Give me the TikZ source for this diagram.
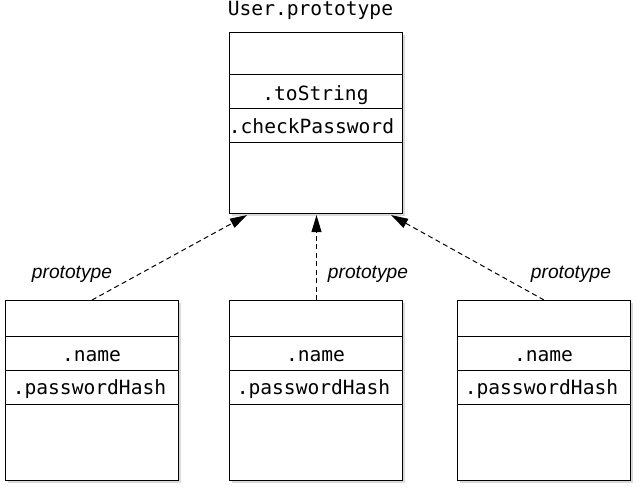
\documentclass[tikz,border=0pt]{standalone}
\usepackage{fontspec}
\setmonofont{DejaVu Sans Mono}
\newfontfamily\labelfont{Liberation Sans}
\usetikzlibrary{arrows.meta,shadows}
\begin{document}
\begin{tikzpicture}[x=1pt,y=-1pt,
  objbox/.style={draw=black, line width=1.1pt, fill=white, rectangle, inner sep=0pt,
     minimum width=173pt, drop shadow={shadow xshift=2.5pt, shadow yshift=-2.5pt, opacity=0.3}},
  mono/.style={font=\ttfamily\fontsize{19.6}{22}\selectfont, anchor=base, inner sep=0pt},
  lbl/.style={font=\labelfont\itshape\fontsize{19.2}{22}\selectfont, anchor=base, inner sep=0pt},
  protoarrow/.style={line width=1pt, dash pattern=on 5pt off 3.5pt,
     -{Triangle[length=17pt,width=10pt]}},
  divider/.style={line width=0.8pt}]
\useasboundingbox (0,0) rectangle (643,493);

% top object
\node[objbox, minimum height=181pt, anchor=north west] (top) at (229,32) {};
\draw[divider] ([yshift=-42pt]top.north west) -- ([yshift=-42pt]top.north east);
\draw[divider] ([yshift=-76pt]top.north west) -- ([yshift=-76pt]top.north east);
\draw[divider] ([yshift=-110pt]top.north west) -- ([yshift=-110pt]top.north east);
\node[mono] (toptitle) at (310.5,15) {User.prototype};
\node[mono] (tostr) at (315.5,100) {.toString};
\node[mono] (chkpw) at (311.5,133) {.checkPassword};

% bottom objects
\foreach \nm/\x in {b1/5, b2/229, b3/457}{
  \node[objbox, minimum height=180pt, anchor=north west] (\nm) at (\x,300) {};
  \draw[divider] ([yshift=-36pt]\nm.north west) -- ([yshift=-36pt]\nm.north east);
  \draw[divider] ([yshift=-70pt]\nm.north west) -- ([yshift=-70pt]\nm.north east);
  \draw[divider] ([yshift=-104pt]\nm.north west) -- ([yshift=-104pt]\nm.north east);
  \node[mono] (\nm name) at (\x+86.5,361) {.name};
  \node[mono] (\nm hash) at (\x+84.5,394) {.passwordHash};
}

% connectors
\draw[protoarrow] ([xshift=87pt]b1.north west) -- ([xshift=18pt,yshift=-1pt]top.south west);
\draw[protoarrow] ([xshift=87.5pt]b2.north west) -- ([xshift=87.5pt,yshift=-1pt]top.south west);
\draw[protoarrow] ([xshift=87pt]b3.north west) -- ([xshift=-12pt,yshift=-1pt]top.south east);

% labels
\node[lbl] (l1) at (72,278) {prototype};
\node[lbl] (l2) at (368,278) {prototype};
\node[lbl] (l3) at (571,278) {prototype};
\end{tikzpicture}
\end{document}
